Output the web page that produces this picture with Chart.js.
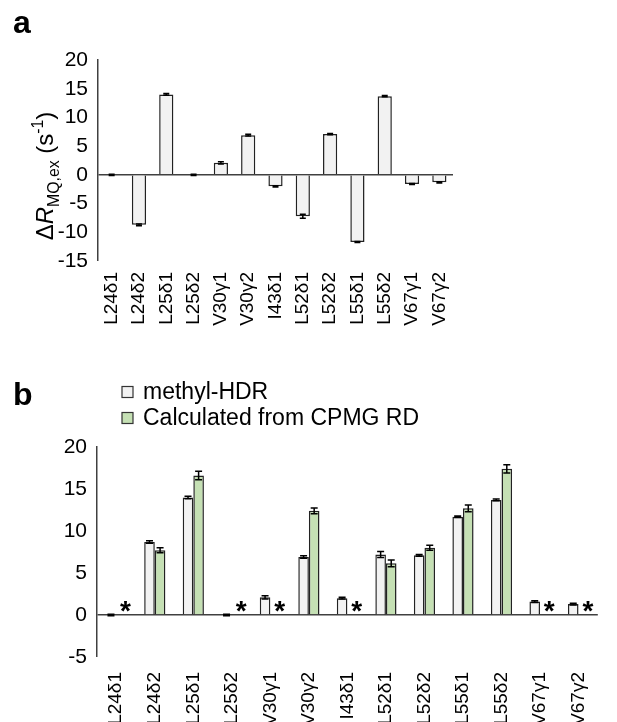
<!DOCTYPE html>
<html>
<head>
<meta charset="utf-8">
<script src="https://cdn.jsdelivr.net/npm/chart.js@4.4.0/dist/chart.umd.min.js"></script>
<style>
  body { margin: 0; background: #fff; }
  #wrap { position: relative; width: 617px; height: 722px; }
  canvas { position: absolute; left: 0; }
</style>
</head>
<body>
<div id="wrap">
  <canvas id="chartA" width="617" height="340" style="top:0"></canvas>
  <canvas id="chartB" width="617" height="382" style="top:340px"></canvas>
</div>
<script>
// data
const labels = ['L24δ1', 'L24δ2', 'L25δ1', 'L25δ2', 'V30γ1', 'V30γ2', 'I43δ1', 'L52δ1', 'L52δ2', 'L55δ1', 'L55δ2', 'V67γ1', 'V67γ2'];
const hdrValues = [0.0, -8.7, 14.0, 0.0, 2.1, 6.9, -2.0, -7.2, 7.1, -11.7, 13.7, -1.6, -1.3];
const hdrErrors = [0.1, 0.15, 0.15, 0.1, 0.2, 0.15, 0.1, 0.35, 0.1, 0.1, 0.1, 0.1, 0.1];
const cpmgValues = [null, 7.7, 16.6, null, null, 12.4, null, 6.15, 8.0, 12.7, 17.4, null, null];
const cpmgErrors = [null, 0.3, 0.5, null, null, 0.35, null, 0.4, 0.3, 0.4, 0.5, null, null];
const ticksA = [-15, -10, -5, 0, 5, 10, 15, 20];
const ticksB = [-5, 0, 5, 10, 15, 20];
const seriesNames = ['methyl-HDR', 'Calculated from CPMG RD'];

const FONT = '"Liberation Sans", Arial, sans-serif';
const AXIS = '#404040';

// error bars + asterisks where no CPMG value
const errorBars = {
    id: 'errorBars',
    afterDatasetsDraw(chart) {
        const ctx = chart.ctx;
        const y = chart.scales.y;
        chart.data.datasets.forEach((ds, di) => {
            const meta = chart.getDatasetMeta(di);
            meta.data.forEach((bar, i) => {
                const v = ds.data[i];
                if (v === null) {
                    if (ds.starMissing) {
                        ctx.save();
                        ctx.fillStyle = '#000';
                        ctx.font = 'bold 28px ' + FONT;
                        ctx.textAlign = 'center';
                        ctx.textBaseline = 'alphabetic';
                        ctx.fillText('*', bar.x + 4, y.getPixelForValue(0) + 5);
                        ctx.restore();
                    }
                    return;
                }
                const e = ds.errors[i];
                const top = y.getPixelForValue(v + e);
                const bot = y.getPixelForValue(v - e);
                const cap = ds.capWidth / 2;
                ctx.save();
                ctx.strokeStyle = '#000';
                ctx.lineWidth = 1.5;
                ctx.beginPath();
                ctx.moveTo(bar.x, top); ctx.lineTo(bar.x, bot);
                ctx.moveTo(bar.x - cap, top); ctx.lineTo(bar.x + cap, top);
                ctx.moveTo(bar.x - cap, bot); ctx.lineTo(bar.x + cap, bot);
                ctx.stroke();
                ctx.restore();
            });
        });
    }
};

// rotated y title with sub/superscripts
function drawRichVertical(ctx, parts, x, cy, size) {
    ctx.save();
    ctx.translate(x, cy);
    ctx.rotate(-Math.PI / 2);
    ctx.fillStyle = '#000';
    ctx.textBaseline = 'alphabetic';
    let total = 0;
    parts.forEach(p => {
        ctx.font = (p.italic ? 'italic ' : '') + (p.small ? size * 0.66 : size) + 'px ' + FONT;
        p.w = ctx.measureText(p.t).width;
        total += p.w;
    });
    let cx = -total / 2;
    parts.forEach(p => {
        ctx.font = (p.italic ? 'italic ' : '') + (p.small ? size * 0.66 : size) + 'px ' + FONT;
        const dy = p.sub ? size * 0.25 : (p.sup ? -size * 0.42 : 0);
        ctx.fillText(p.t, cx, dy);
        cx += p.w;
    });
    ctx.restore();
}

// panel letter, axis title, legend
const decorations = {
    id: 'decorations',
    afterDraw(chart) {
        const o = chart.options.plugins.decorations;
        const ctx = chart.ctx;
        ctx.save();
        ctx.fillStyle = '#000';
        ctx.font = 'bold 32px ' + FONT;
        ctx.textBaseline = 'alphabetic';
        ctx.fillText(o.letter, o.letterX, o.letterY);
        ctx.restore();
        drawRichVertical(ctx, o.title, o.titleX, o.titleY, 24);
        if (o.legend) {
            chart.data.datasets.forEach((ds, i) => {
                const ly = o.legendY + i * 26;
                ctx.save();
                ctx.fillStyle = ds.backgroundColor;
                ctx.strokeStyle = '#333';
                ctx.lineWidth = 1.2;
                ctx.fillRect(122, ly - 5.5, 11, 11);
                ctx.strokeRect(122, ly - 5.5, 11, 11);
                ctx.fillStyle = '#000';
                ctx.font = '23px ' + FONT;
                ctx.textBaseline = 'middle';
                ctx.fillText(ds.label, 143, ly + 1);
                ctx.restore();
            });
        }
    }
};

function baseOptions(yTicks, leftW, xHeight, padTop, padRight, labelPad) {
    return {
        responsive: false,
        animation: false,
        layout: { padding: { top: padTop, right: padRight, left: 0, bottom: 0 } },
        plugins: { legend: { display: false }, tooltip: { enabled: false } },
        scales: {
            x: {
                grid: { display: false, drawTicks: false },
                border: { display: false },
                ticks: {
                    color: '#000', font: { family: FONT, size: 19 },
                    minRotation: 90, maxRotation: 90, autoSkip: false, padding: labelPad
                },
                afterFit(s) { s.height = xHeight; }
            },
            y: {
                min: yTicks[0],
                max: yTicks[yTicks.length - 1],
                afterBuildTicks(s) { s.ticks = yTicks.map(v => ({ value: v })); },
                border: { display: true, color: AXIS, width: 1.5 },
                grid: {
                    drawTicks: false,
                    color: c => (c.tick && c.tick.value === 0 ? AXIS : 'rgba(0,0,0,0)'),
                    lineWidth: c => (c.tick && c.tick.value === 0 ? 1.5 : 0)
                },
                ticks: { color: '#000', font: { family: FONT, size: 21 }, padding: 10 },
                afterFit(s) { s.width = leftW; }
            }
        }
    };
}

const titleParts = (abs) => {
    const p = [];
    if (abs) p.push({ t: '|' });
    p.push({ t: 'Δ' }, { t: 'R', italic: true }, { t: 'MQ,ex', small: true, sub: true });
    if (abs) p.push({ t: '|' });
    p.push({ t: ' (s' }, { t: '-1', small: true, sup: true }, { t: ')' });
    return p;
};

// panel a
const optA = baseOptions(ticksA, 98, 79, 60, 617 - 453, 11);
optA.plugins.decorations = { letter: 'a', letterX: 13, letterY: 33, title: titleParts(false), titleX: 53, titleY: 176 };
new Chart(document.getElementById('chartA'), {
    type: 'bar',
    data: {
        labels: labels,
        datasets: [{
            label: seriesNames[0],
            data: hdrValues,
            errors: hdrErrors,
            capWidth: 6,
            backgroundColor: '#f2f2f2',
            borderColor: '#222',
            borderWidth: 1.5,
            categoryPercentage: 1,
            barPercentage: 0.52
        }]
    },
    options: optA,
    plugins: [errorBars, decorations]
});

// panel b
const optB = baseOptions(ticksB, 97, 65, 107, 17, 15);
optB.plugins.decorations = { letter: 'b', letterX: 13, letterY: 65, title: titleParts(true), titleX: 70, titleY: 548, legend: true, legendY: 52 };
new Chart(document.getElementById('chartB'), {
    type: 'bar',
    data: {
        labels: labels,
        datasets: [{
            label: seriesNames[0],
            data: hdrValues.map(v => Math.abs(v)),
            errors: hdrErrors,
            capWidth: 7,
            backgroundColor: '#f2f2f2',
            borderColor: '#222',
            borderWidth: 1.5,
            categoryPercentage: 0.55,
            barPercentage: 1
        }, {
            label: seriesNames[1],
            data: cpmgValues,
            errors: cpmgErrors,
            capWidth: 7,
            starMissing: true,
            backgroundColor: '#c5e0b4',
            borderColor: '#222',
            borderWidth: 1.5,
            categoryPercentage: 0.55,
            barPercentage: 1
        }]
    },
    options: optB,
    plugins: [errorBars, decorations]
});
</script>
</body>
</html>
